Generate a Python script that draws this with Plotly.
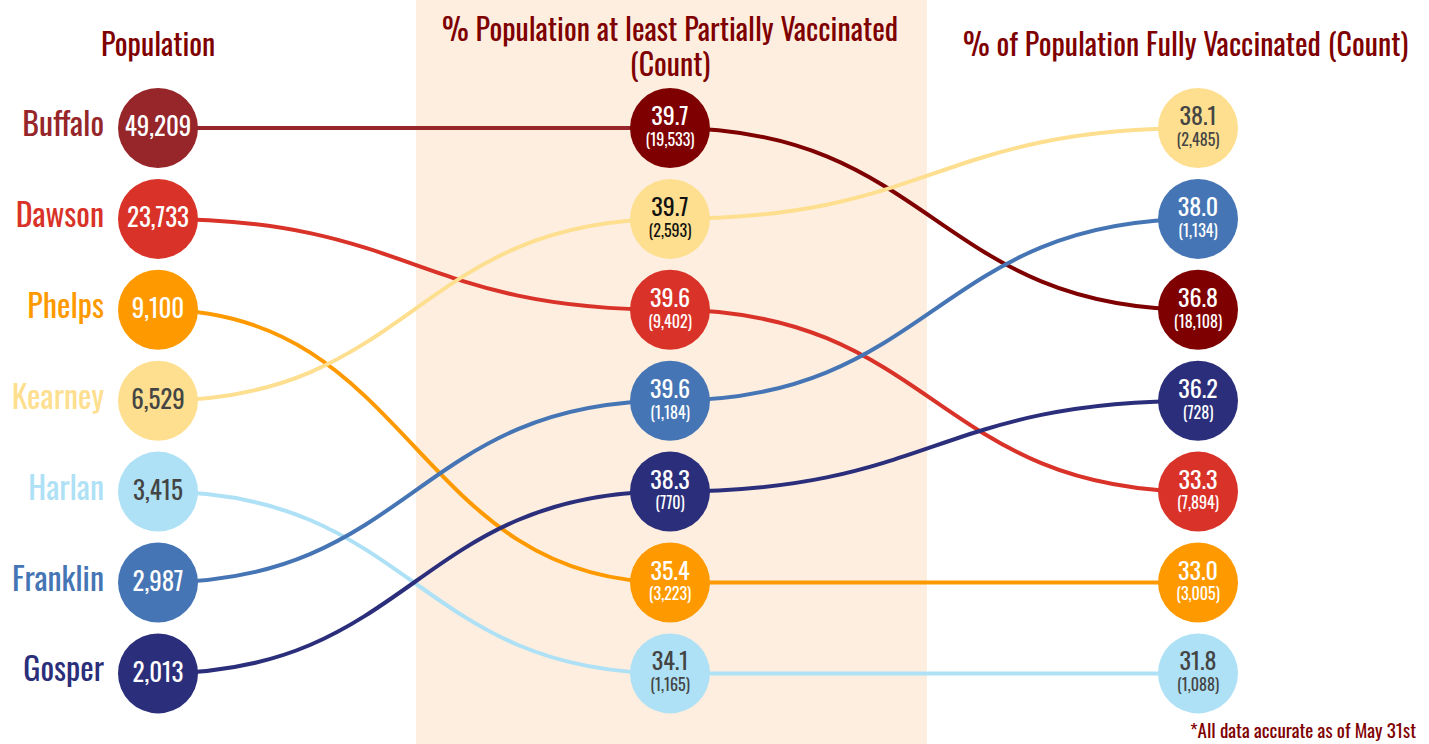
import plotly.graph_objects as go

# ---------------- data ----------------
counties = ["Buffalo", "Dawson", "Phelps", "Kearney", "Harlan", "Franklin", "Gosper"]
population = [49209, 23733, 9100, 6529, 3415, 2987, 2013]
partial_pct = [39.7, 39.6, 35.4, 39.7, 34.1, 39.6, 38.3]
partial_count = [19533, 9402, 3223, 2593, 1165, 1184, 770]
full_pct = [36.8, 33.3, 33.0, 38.1, 31.8, 38.0, 36.2]
full_count = [18108, 7894, 3005, 2485, 1088, 1134, 728]

header_pop = "Population"
header_partial = ["% Population at least Partially Vaccinated", "(Count)"]
header_full = "% of Population Fully Vaccinated (Count)"
footnote = "*All data accurate as of May 31st"

# ---------------- style ----------------
col_pop = ["#96262a", "#d93228", "#fe9a00", "#fddf8f", "#aee1f5", "#4575b4", "#2b2e7a"]
col_vax = ["#7f0000", "#d93228", "#fe9a00", "#fddf8f", "#aee1f5", "#4575b4", "#2b2e7a"]
light = [False, False, False, True, True, False, False]
FONT = "Oswald, 'Roboto Condensed', 'Liberation Sans Narrow', 'DejaVu Sans Condensed', 'Arial Narrow', sans-serif"
HEAD = "#7f0000"
X1, X2, X3 = 158, 670, 1198
W, H = 1429, 744

n = len(counties)
rank_pop = sorted(range(n), key=lambda i: -population[i])
rank_par = sorted(range(n), key=lambda i: (-partial_pct[i], -partial_count[i]))
rank_full = sorted(range(n), key=lambda i: (-full_pct[i], -full_count[i]))
r1 = [rank_pop.index(i) for i in range(n)]
r2 = [rank_par.index(i) for i in range(n)]
r3 = [rank_full.index(i) for i in range(n)]

# y axis in rank units: rank 0 -> 128 px, step 90.9 px
y0px, step = 128, 90.9
ytop = -y0px / step
ybot = (H - y0px) / step

fig = go.Figure()

shapes = [dict(type="rect", xref="x", yref="paper", x0=416, x1=927, y0=0, y1=1,
               fillcolor="#fdeee0", line_width=0, layer="below")]


def curve(xa, ya, xb, yb, color):
    xm = (xa + xb) / 2
    return dict(type="path", xref="x", yref="y",
                path=f"M {xa},{ya} C {xm},{ya} {xm},{yb} {xb},{yb}",
                line=dict(color=color, width=4), layer="below")


for i in range(n):
    shapes.append(curve(X1, r1[i], X2, r2[i], col_pop[i]))
    shapes.append(curve(X2, r2[i], X3, r3[i], col_vax[i]))

# circles
fig.add_trace(go.Scatter(x=[X1] * n, y=r1, mode="markers",
                         marker=dict(size=80, color=col_pop, line_width=0)))
fig.add_trace(go.Scatter(x=[X2] * n, y=r2, mode="markers",
                         marker=dict(size=80, color=col_vax, line_width=0)))
fig.add_trace(go.Scatter(x=[X3] * n, y=r3, mode="markers",
                         marker=dict(size=80, color=col_vax, line_width=0)))

txt_col = ["#444444" if l else "white" for l in light]
txt_col2 = ["#111111" if counties[i] == "Kearney" else txt_col[i] for i in range(n)]

# column 1 text
fig.add_trace(go.Scatter(x=[X1] * n, y=[r + 2 / step for r in r1], mode="text",
                         text=[f"{v:,}" for v in population],
                         textfont=dict(family=FONT, size=25, color=txt_col)))
# county labels
fig.add_trace(go.Scatter(x=[104] * n, y=r1, mode="text", textposition="middle left",
                         text=counties,
                         textfont=dict(family=FONT, size=32, color=col_pop)))


def two_line(pct, cnt):
    return f"<span style='font-size:24px'>{pct:.1f}</span><br>({cnt:,})"


dy = 3.5 / step
# column 2 text (value + count in one text, count is base size -> tight line gap)
fig.add_trace(go.Scatter(x=[X2] * n, y=[r + dy for r in r2], mode="text",
                         text=[two_line(p, c) for p, c in zip(partial_pct, partial_count)],
                         textfont=dict(family=FONT, size=16, color=txt_col2)))
# column 3 text
fig.add_trace(go.Scatter(x=[X3] * n, y=[r + dy for r in r3], mode="text",
                         text=[two_line(p, c) for p, c in zip(full_pct, full_count)],
                         textfont=dict(family=FONT, size=16, color=txt_col)))

annotations = [
    dict(x=X1, y=43, text=header_pop, size=30),
    dict(x=X2, y=45, text="<span style='font-size:30px'>" + header_partial[0] +
         "</span><br><span style='font-size:30px'>" + header_partial[1] + "</span>", size=27),
    dict(x=1185, y=43, text=header_full, size=30),
]
for a in annotations:
    a["y"] = 1 - a["y"] / H
    sz = a.pop("size")
    a.update(xref="x", yref="paper", showarrow=False, xanchor="center", yanchor="middle",
             font=dict(family=FONT, size=sz, color=HEAD))
annotations.append(dict(x=1418, y=1 - 729 / H, xref="x", yref="paper", text=footnote,
                        showarrow=False, xanchor="right", yanchor="middle",
                        font=dict(family=FONT, size=19, color=HEAD)))

fig.update_layout(
    width=W, height=H, margin=dict(l=0, r=0, t=0, b=0),
    plot_bgcolor="white", paper_bgcolor="white",
    showlegend=False, hovermode=False,
    shapes=shapes, annotations=annotations,
    xaxis=dict(range=[0, W], visible=False, fixedrange=True),
    yaxis=dict(range=[ybot, ytop], visible=False, fixedrange=True),
)

fig.write_html("out.html", config={"displayModeBar": False},
               post_script="document.body.style.margin='0';document.body.style.padding='0';document.body.style.overflow='hidden';")
